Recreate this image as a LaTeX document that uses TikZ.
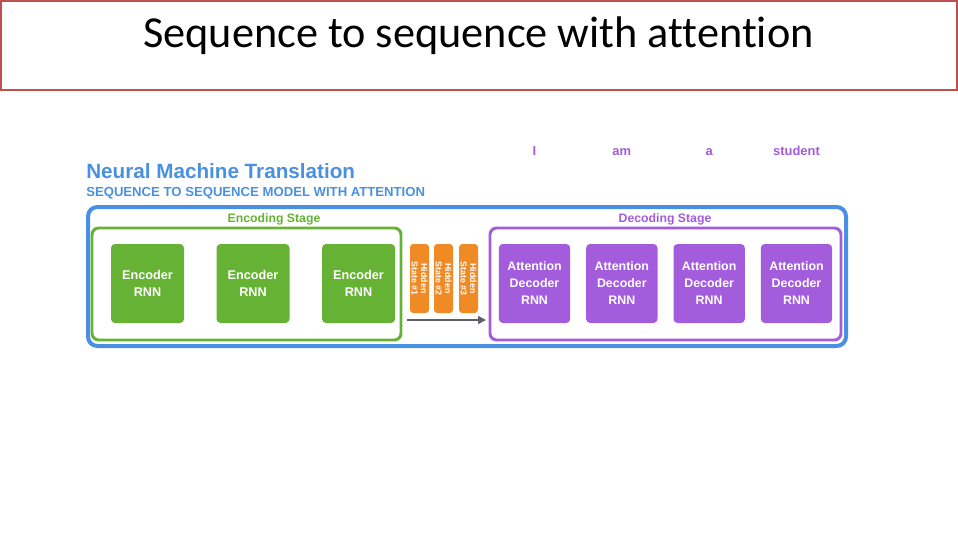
\documentclass[tikz,border=0pt]{standalone}
\usepackage{fontspec}
\setmainfont{Liberation Sans}
\newfontfamily\titlefont[Ligatures=NoCommon]{Carlito}
\usetikzlibrary{positioning, arrows.meta}
\definecolor{titlered}{RGB}{192, 80, 77}
\definecolor{nmtblue}{RGB}{74, 144, 226}
\definecolor{encgreen}{RGB}{101, 178, 52}
\definecolor{hidorange}{RGB}{240, 138, 36}
\definecolor{decpurple}{RGB}{162, 92, 220}
\definecolor{arrowgray}{RGB}{95, 95, 105}

\begin{document}
\begin{tikzpicture}[x=0.75pt, y=-0.75pt, node distance=24pt,
    encbox/.style={rectangle, fill=encgreen, rounded corners=3pt,
      minimum width=54.75pt, minimum height=59.25pt, inner sep=0pt,
      text=white, align=center, font=\bfseries\fontsize{9.5}{12.75}\selectfont},
    decbox/.style={rectangle, fill=decpurple, rounded corners=3pt,
      minimum width=53.5pt, minimum height=59.25pt, inner sep=0pt,
      text=white, align=center, font=\bfseries\fontsize{9.3}{12.75}\selectfont},
    hidbox/.style={rectangle, fill=hidorange, rounded corners=2.5pt, rotate=-90,
      minimum width=51.75pt, minimum height=14.25pt, inner sep=0pt,
      text=white, align=center, font=\bfseries\fontsize{6.6}{7}\selectfont},
    stagelabel/.style={font=\bfseries\fontsize{9.2}{11}\selectfont},
    wordlabel/.style={text=decpurple, anchor=base, font=\bfseries\fontsize{9.7}{11}\selectfont}]
\useasboundingbox (0,0) rectangle (958,540);

% Slide title
\node[draw=titlered, line width=1.5pt, minimum width=717pt, minimum height=66.75pt,
      inner sep=0pt] (titlebox) at (479,45.5) {};
\node[font=\titlefont\fontsize{33.2}{36}\selectfont] (title) at (478.5,36)
      {Sequence to sequence with attention};

% Headings
\node[anchor=west, text=nmtblue, font=\bfseries\fontsize{15.5}{18}\selectfont,
      inner sep=0pt] (nmt) at (86,171.5) {Neural Machine Translation};
\node[anchor=west, text=nmtblue, font=\bfseries\fontsize{9.85}{12}\selectfont,
      inner sep=0pt] (seq) at (86,193.5) {SEQUENCE TO SEQUENCE MODEL WITH ATTENTION};

% Frames
\node[draw=nmtblue, line width=3pt, rounded corners=7pt,
      minimum width=568.5pt, minimum height=104.25pt] (model) at (467,276.5) {};
\node[draw=encgreen, line width=2.2pt, rounded corners=5pt,
      minimum width=231.75pt, minimum height=84pt] (encstage) at (246.5,284) {};
\node[draw=decpurple, line width=2.2pt, rounded corners=5pt,
      minimum width=263.25pt, minimum height=84pt] (decstage) at (665.5,284) {};
\node[stagelabel, text=encgreen] (enclabel) at (274,219.5) {Encoding Stage};
\node[stagelabel, text=decpurple] (declabel) at (665,219.5) {Decoding Stage};

% Encoder RNNs
\node[encbox] (enc1) at (147.5,283.5) {Encoder\\RNN};
\node[encbox, right=of enc1] (enc2) {Encoder\\RNN};
\node[encbox, right=of enc2] (enc3) {Encoder\\RNN};

% Hidden states
\node[hidbox] (hid1) at (419.5,278.5) {Hidden\\State \#1};
\node[hidbox] (hid2) at (443.5,278.5) {Hidden\\State \#2};
\node[hidbox] (hid3) at (468.5,278.5) {Hidden\\State \#3};

% Attention decoder RNNs
\node[decbox] (dec1) at (534.5,283.5) {Attention\\Decoder\\RNN};
\node[decbox, right=11.6pt of dec1] (dec2) {Attention\\Decoder\\RNN};
\node[decbox, right=11.6pt of dec2] (dec3) {Attention\\Decoder\\RNN};
\node[decbox, right=11.6pt of dec3] (dec4) {Attention\\Decoder\\RNN};

% Output words
\node[wordlabel] (w1) at (dec1.center |- 0,155.5) {I};
\node[wordlabel] (w2) at (dec2.center |- 0,155.5) {am};
\node[wordlabel] (w3) at (dec3.center |- 0,155.5) {a};
\node[wordlabel] (w4) at (dec4.center |- 0,155.5) {student};

% Context vector arrow
\coordinate (ctxstart) at (407,320);
\coordinate (ctxend) at (486,320);
\draw[-{Triangle[length=6pt, width=6pt]}, arrowgray, line width=1.3pt] (ctxstart) -- (ctxend);

\end{tikzpicture}
\end{document}
